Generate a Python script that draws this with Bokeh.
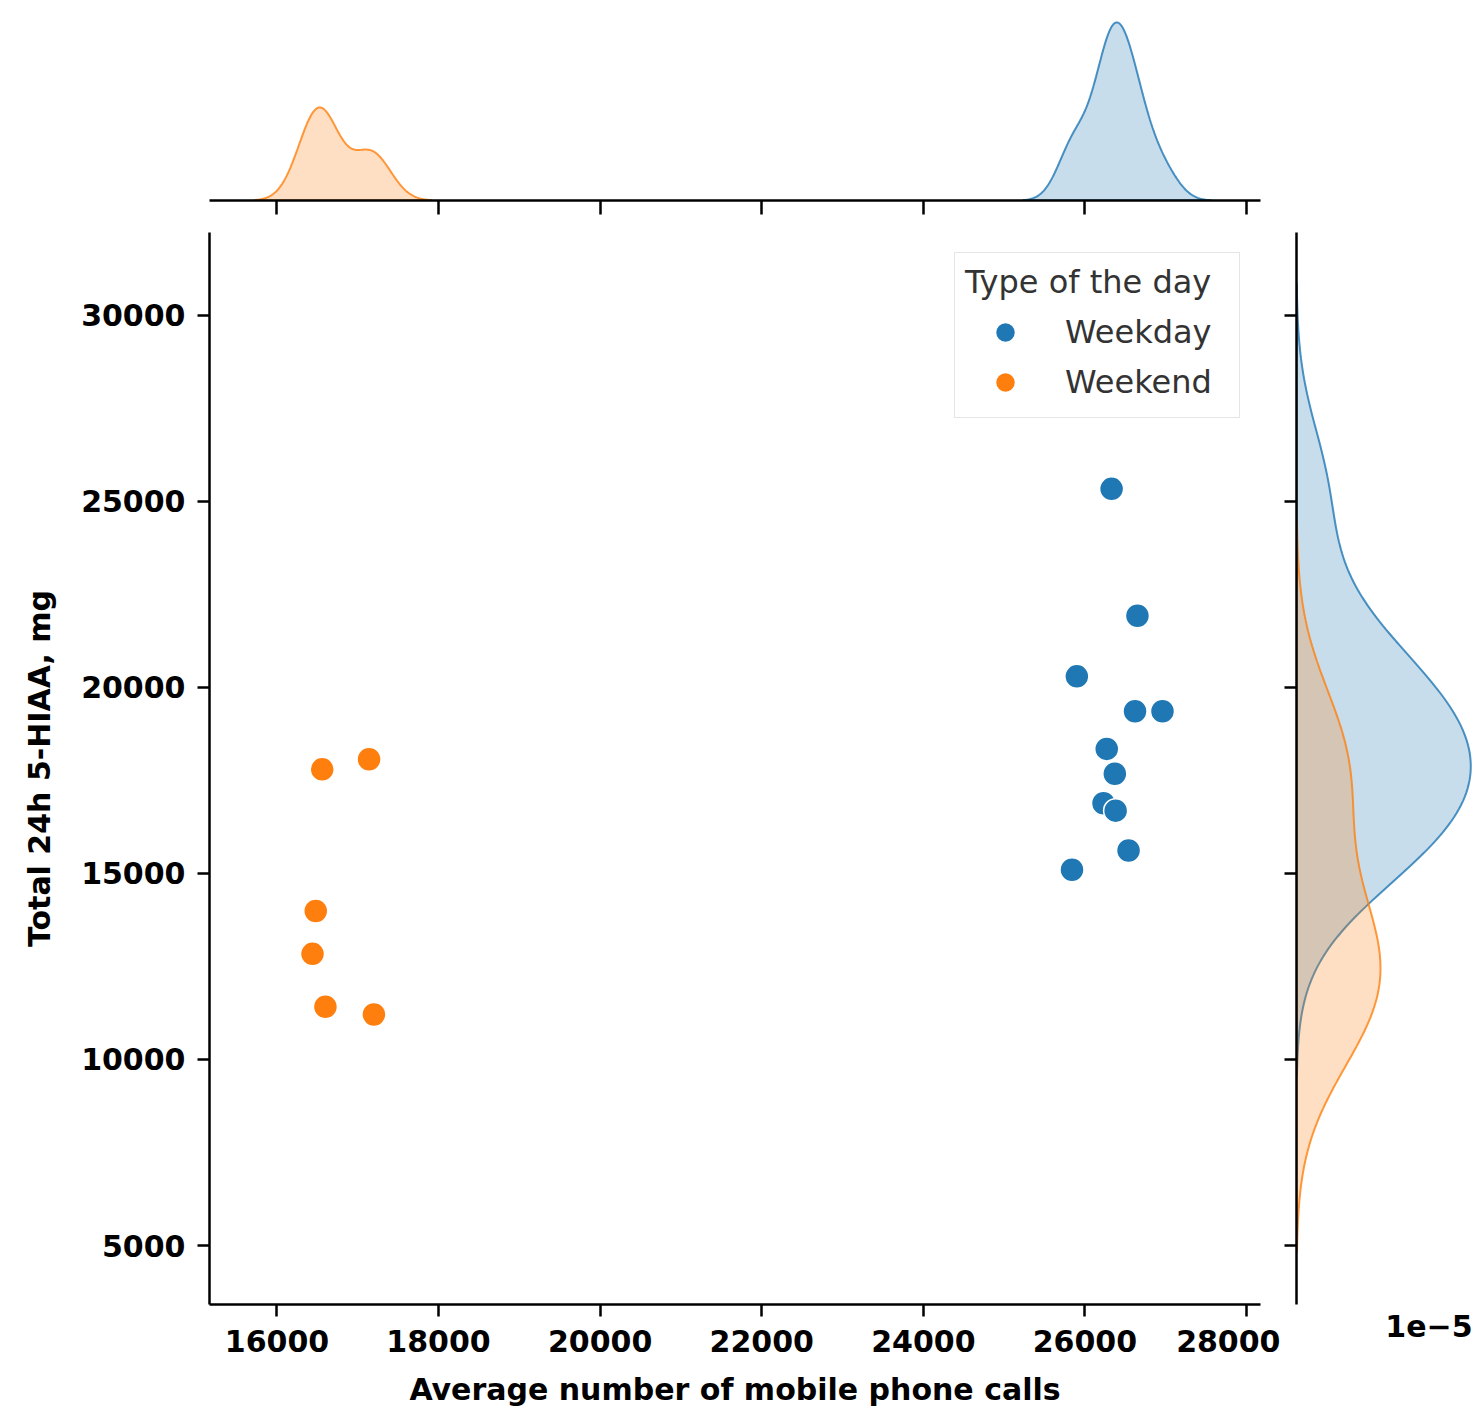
import numpy as np
from bokeh.plotting import figure
from bokeh.layouts import column, row
from bokeh.models import (Range1d, FixedTicker, Legend, LegendItem, Title, Spacer)
from bokeh.embed import file_html
from bokeh.resources import INLINE

# Daily observations: mobile phone calls vs total 24h 5-HIAA
weekday_calls = [26330, 26650, 25900, 26620, 26960, 26270, 26370, 26230, 26380, 26540, 25840]
weekday_hiaa = [25340, 21930, 20300, 19360, 19360, 18350, 17680, 16890, 16690, 15620, 15100]
weekend_calls = [16560, 17140, 16480, 16440, 16600, 17200]
weekend_hiaa = [17800, 18070, 13990, 12840, 11420, 11210]

day_types = ["Weekday", "Weekend"]
day_colors = ["#1f77b4", "#ff7f0e"]

x_ticks = [16000, 18000, 20000, 22000, 24000, 26000, 28000]
x_tick_labels = ["16000", "18000", "20000", "22000", "24000", "26000", "28000"]
y_ticks = [5000, 10000, 15000, 20000, 25000, 30000]
y_tick_labels = ["5000", "10000", "15000", "20000", "25000", "30000"]

FONT = "DejaVu Sans"
TICK_SIZE = "30px"


def gaussian_kde_1d(data, n_total, gridsize=200, cut=3):
    """Scott-rule Gaussian KDE, scaled by the group's share of all points."""
    d = np.asarray(data, dtype=float)
    n = len(d)
    bw = n ** (-1 / 5) * d.std(ddof=1)
    support = np.linspace(d.min() - cut * bw, d.max() + cut * bw, gridsize)
    z = (support[:, None] - d[None, :]) / bw
    dens = np.exp(-0.5 * z ** 2).sum(axis=1) / (n * bw * np.sqrt(2 * np.pi))
    return support, dens * n / n_total


n_all = len(weekday_calls) + len(weekend_calls)
groups = [(weekday_calls, weekday_hiaa), (weekend_calls, weekend_hiaa)]
kde_x = [gaussian_kde_1d(g[0], n_all) for g in groups]
kde_y = [gaussian_kde_1d(g[1], n_all) for g in groups]

x_range = Range1d(15165, 28173)
y_range = Range1d(3414, 32231)


def style_common(p):
    p.outline_line_color = None
    p.background_fill_color = "white"
    p.border_fill_color = "white"
    p.xgrid.visible = False
    p.ygrid.visible = False


def style_axis(ax, ticks, labels=None, hide_labels=False, tick_out=12):
    ax.ticker = FixedTicker(ticks=ticks)
    ax.minor_tick_line_color = None
    ax.major_tick_in = 0
    ax.major_tick_out = tick_out
    ax.major_tick_line_width = 2.5
    ax.major_tick_line_color = "black"
    ax.axis_line_width = 2.5
    ax.axis_line_color = "black"
    if hide_labels:
        # marginal axes keep their ticks but show no numbers
        ax.major_label_text_color = None
        ax.major_label_text_font_size = "1px"
        ax.major_label_standoff = 0
    else:
        ax.major_label_overrides = {t: l for t, l in zip(ticks, labels)}
        ax.major_label_text_font = FONT
        ax.major_label_text_font_style = "bold"
        ax.major_label_text_font_size = TICK_SIZE
        ax.major_label_text_color = "black"


# ---- main scatter panel ----
main = figure(width=1280, height=1201, x_range=x_range, y_range=y_range,
              output_backend="svg", toolbar_location=None,
              min_border_left=209, min_border_right=20,
              min_border_top=12, min_border_bottom=117)
style_common(main)
style_axis(main.xaxis[0], x_ticks, x_tick_labels)
style_axis(main.yaxis[0], y_ticks, y_tick_labels)
main.xaxis[0].major_label_standoff = 13
main.yaxis[0].major_label_standoff = 12
main.xaxis[0].axis_label = "Average number of mobile phone calls"
main.yaxis[0].axis_label = "Total 24h 5-HIAA, mg"
for ax in (main.xaxis[0], main.yaxis[0]):
    ax.axis_label_text_font = FONT
    ax.axis_label_text_font_style = "bold"
    ax.axis_label_text_font_size = "30px"
    ax.axis_label_text_color = "black"
main.xaxis[0].axis_label_standoff = 17
main.yaxis[0].axis_label_standoff = 21

renderers = []
for (cx, cy), col in zip(groups, day_colors):
    r = main.scatter(cx, cy, size=24, fill_color=col, line_color="white",
                     line_width=1.5)
    renderers.append(r)

legend = Legend(items=[LegendItem(label=lab, renderers=[r])
                       for lab, r in zip(day_types, renderers)],
                location="top_right", margin=20, padding=10,
                title="Type of the day", title_text_font=FONT,
                title_text_font_style="normal", title_text_font_size="32px",
                title_text_color="#333333", title_standoff=6,
                label_text_font=FONT, label_text_font_size="32px",
                label_text_color="#333333", label_standoff=20,
                label_width=164, label_height=50,
                glyph_width=80, glyph_height=50, spacing=0,
                border_line_color="#cccccc", border_line_width=1.5,
                background_fill_color="white", background_fill_alpha=0.8)
main.add_layout(legend)

# ---- top marginal: density of calls ----
x_peak = max(d.max() for _, d in kde_x)
top = figure(width=1280, height=220, x_range=x_range,
             y_range=Range1d(0, x_peak * 1.05),
             output_backend="svg", toolbar_location=None,
             y_axis_location=None,
             min_border_left=209, min_border_right=20,
             min_border_top=13, min_border_bottom=20)
style_common(top)
style_axis(top.xaxis[0], x_ticks, hide_labels=True, tick_out=14)
for (sup, dens), col in zip(kde_x, day_colors):
    top.patch(np.concatenate([sup, sup[::-1]]),
              np.concatenate([dens, np.zeros_like(dens)]),
              fill_color=col, fill_alpha=0.25,
              line_color=col, line_alpha=0.8, line_width=2)

# ---- right marginal: density of 5-HIAA ----
y_peak = max(d.max() for _, d in kde_y)
right = figure(width=200, height=1201, y_range=y_range,
               x_range=Range1d(0, y_peak * 1.05),
               output_backend="svg", toolbar_location=None,
               x_axis_location=None,
               min_border_left=16, min_border_right=1,
               min_border_top=12, min_border_bottom=117)
style_common(right)
style_axis(right.yaxis[0], y_ticks, hide_labels=True, tick_out=12)
for (sup, dens), col in zip(kde_y, day_colors):
    right.patch(np.concatenate([dens, np.zeros_like(dens)]),
                np.concatenate([sup, sup[::-1]]),
                fill_color=col, fill_alpha=0.25,
                line_color=col, line_alpha=0.8, line_width=2)

# scale marker of the density axis, under the right end of the panel
right.add_layout(Title(text="1e\u22125", align="right", offset=7,
                       text_font=FONT, text_font_style="bold",
                       text_font_size=TICK_SIZE, text_color="black",
                       standoff=16), "below")

layout = column(row(top, Spacer(width=200, height=220)),
                row(main, right))

open("out.html", "w").write(file_html(layout, INLINE))
